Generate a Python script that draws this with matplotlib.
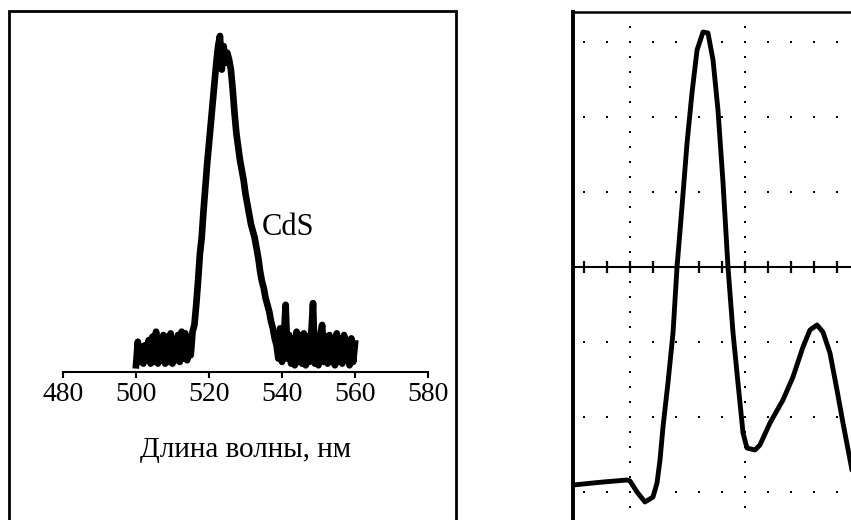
import numpy as np
import matplotlib.pyplot as plt
from matplotlib.patches import Rectangle

plt.rcParams['font.family'] = ['Liberation Serif', 'DejaVu Serif']

# luminescence spectrum of CdS, wavelength step 0.5 nm
wl = np.arange(500.0, 560.01, 0.5)
intensity = [2.0, 9.0, 3.0, 7.5, 2.5, 8.0, 3.5, 9.5, 2.5, 10.5, 3.0, 12.0, 2.5, 10.0, 3.5, 11.0,
             2.5, 10.5, 3.0, 11.5, 2.5, 9.5, 3.5, 11.0, 3.0, 12.0, 4.0, 11.5, 3.5, 9.0, 5.0, 12.0,
             14, 20, 27, 35, 40, 48, 55, 62, 68, 74, 80, 86, 92, 97, 100,
             90, 97, 92, 95,
             93, 90, 84, 77, 71, 67, 63, 60, 57, 53, 50, 47, 44, 42, 40, 37, 34, 30, 27, 25, 22,
             20, 18, 15, 13, 10, 8,
             4, 13, 3, 10, 20, 4, 11, 2.5, 9, 2, 12, 3, 11, 2.5, 11.5, 2, 10.5, 3, 11, 20.5, 2.5,
             10, 2, 11, 14, 3, 10.5, 2.5, 11, 3, 9.5, 2, 11.5, 3, 10, 2.5, 11, 3.5, 9.5, 2, 10, 3, 8.5]
wl_ticks = [480, 500, 520, 540, 560, 580]

# oscilloscope trace, in screen divisions
osc_t = [-0.496, -0.322, -0.235, -0.026, 0.0, 0.061, 0.130, 0.2, 0.235, 0.261, 0.287, 0.330,
         0.374, 0.409, 0.452, 0.496, 0.539, 0.583, 0.635, 0.678, 0.722, 0.765, 0.809, 0.852,
         0.896, 0.939, 0.983, 1.017, 1.087, 1.130, 1.217, 1.330, 1.417, 1.504, 1.565, 1.626,
         1.678, 1.739, 1.8, 1.852, 1.922, 1.96]
osc_v = [-2.907, -2.88, -2.867, -2.84, -2.853, -3.0, -3.133, -3.067, -2.88, -2.573, -2.133, -1.547,
         -0.88, 0.0, 0.8, 1.653, 2.32, 2.893, 3.133, 3.12, 2.76, 2.093, 1.12, 0.0,
         -0.88, -1.547, -2.213, -2.413, -2.44, -2.373, -2.08, -1.773, -1.467, -1.067, -0.84, -0.773,
         -0.867, -1.147, -1.64, -2.08, -2.64, -2.95]

W, H = 851, 520
fig = plt.figure(figsize=(W / 100, H / 100), dpi=100)


def px_axes(x0, y0, x1, y1):
    return fig.add_axes([x0 / W, 1 - y1 / H, (x1 - x0) / W, (y1 - y0) / H])


# left panel
fig.add_artist(Rectangle((8.5 / W, -0.1), (456 - 8.5) / W, 1.1 - 11 / H,
                         transform=fig.transFigure, fill=False, lw=2, ec='k'))
ax1 = px_axes(63, 36, 428, 372)
ax1.plot(wl, intensity, color='k', lw=4.8, solid_joinstyle='round', clip_on=False)
ax1.set_xlim(480, 580)
ax1.set_ylim(0, 100)
for s in ['left', 'right', 'top']:
    ax1.spines[s].set_visible(False)
ax1.spines['bottom'].set_linewidth(1.5)
ax1.set_yticks([])
ax1.set_xticks(wl_ticks)
ax1.tick_params(axis='x', direction='out', length=4.5, width=1.5, labelsize=20, pad=3)
ax1.set_xlabel('Длина волны, нм', fontsize=21, labelpad=21)
ax1.text(534.5, 43, 'CdS', fontsize=22, ha='left', va='center')
ax1.patch.set_visible(False)

# right panel (oscillogram, cut at the image edge)
ax2 = px_axes(573, 12, 900, 540)
ax2.set_xlim(-57 / 115, 270 / 115)
ax2.set_ylim(-273 / 75, 3.4)
ax2.set_xticks([])
ax2.set_yticks([])
ax2.spines['right'].set_visible(False)
ax2.spines['bottom'].set_visible(False)
ax2.spines['left'].set_linewidth(2.8)
ax2.spines['top'].set_linewidth(1.8)

ys = np.arange(-3.6, 3.41, 0.2)
for gx in [0, 1]:
    ax2.plot(np.full_like(ys, gx), ys, 's', ms=1.8, mew=0, color='k')
xs = np.arange(-0.4, 2.21, 0.2)
for gy in [-3, -2, -1, 1, 2, 3]:
    ax2.plot(xs, np.full_like(xs, gy), 's', ms=1.8, mew=0, color='k')
ax2.axhline(0, color='k', lw=1.5)
ax2.plot(xs, np.zeros_like(xs), '|', ms=8, mew=1.6, color='k')
ax2.plot(osc_t, osc_v, color='k', lw=3.5, solid_joinstyle='round', solid_capstyle='round')

fig.savefig('out.png', dpi=100)
